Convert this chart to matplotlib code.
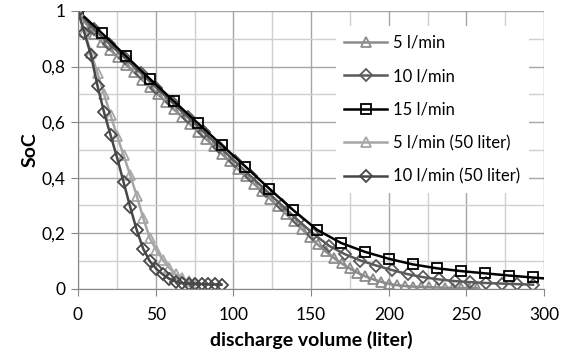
import matplotlib
matplotlib.use("Agg")
import matplotlib.pyplot as plt
from matplotlib.ticker import MultipleLocator

plt.rcParams["font.family"] = ["Lato", "DejaVu Sans"]

# 5 l/min
x_5 = [0, 5.14, 10.28, 15.42, 20.56, 25.70, 30.84, 35.98, 41.12, 46.26,
       51.40, 56.54, 61.68, 66.82, 71.96, 77.10, 82.24, 87.38, 92.52, 97.66,
       102.80, 107.94, 113.08, 118.22, 123.36, 128.50, 133.64, 138.78, 143.92, 149.06,
       154.20, 159.34, 164.48, 169.62, 174.76, 179.90, 185.04, 190.18, 195.32, 200.46,
       205.60, 210.74, 215.88, 221.02, 226.16, 231.30, 236.44, 241.58, 246.72, 251.86,
       257.00]
soc_5 = [1.0, 0.955, 0.918, 0.888, 0.861, 0.834, 0.807, 0.780, 0.753, 0.727,
         0.700, 0.673, 0.646, 0.620, 0.593, 0.566, 0.540, 0.513, 0.486, 0.459,
         0.432, 0.406, 0.379, 0.352, 0.325, 0.298, 0.271, 0.243, 0.216, 0.188,
         0.160, 0.135, 0.112, 0.092, 0.074, 0.058, 0.045, 0.034, 0.025, 0.018,
         0.013, 0.010, 0.008, 0.007, 0.006, 0.005, 0.004, 0.004, 0.003, 0.003,
         0.003]

# 10 l/min
x_10 = [0, 10.1, 20.2, 30.3, 40.4, 50.5, 60.6, 70.7, 80.8, 90.9,
        101.0, 111.1, 121.2, 131.3, 141.4, 151.5, 161.6, 171.7, 181.8, 191.9,
        202.0, 212.1, 222.2, 232.3, 242.4, 252.5, 262.6, 272.7, 282.8, 292.9]
soc_10 = [1.0, 0.935, 0.882, 0.830, 0.777, 0.724, 0.671, 0.618, 0.565, 0.512,
          0.459, 0.406, 0.353, 0.300, 0.248, 0.198, 0.155, 0.125, 0.102, 0.084,
          0.068, 0.053, 0.042, 0.034, 0.028, 0.024, 0.021, 0.019, 0.017, 0.015]

# 15 l/min
x_15 = [0, 15.4, 30.8, 46.2, 61.6, 77.0, 92.4, 107.8, 123.2, 138.6,
        154.0, 169.4, 184.8, 200.2, 215.6, 231.0, 246.4, 261.8, 277.2, 292.6, 308.0]
soc_15 = [1.0, 0.920, 0.838, 0.756, 0.676, 0.597, 0.518, 0.440, 0.360, 0.283,
          0.212, 0.165, 0.133, 0.108, 0.088, 0.074, 0.064, 0.056, 0.048, 0.041, 0.034]

# 5 l/min (50 liter)
x_5_50 = [0, 4.2, 8.4, 12.6, 16.8, 21.0, 25.2, 29.4, 33.6, 37.8,
          42.0, 46.2, 50.4, 54.6, 58.8, 63.0, 67.2, 71.4, 75.6]
soc_5_50 = [1.0, 0.925, 0.850, 0.775, 0.700, 0.625, 0.550, 0.480, 0.410, 0.335,
            0.255, 0.183, 0.140, 0.105, 0.075, 0.052, 0.038, 0.028, 0.022]

# 10 l/min (50 liter)
x_10_50 = [0, 4.2, 8.4, 12.6, 16.8, 21.0, 25.2, 29.4, 33.6, 37.8,
           42.0, 46.2, 50.4, 54.6, 58.8, 63.0, 67.2, 71.4, 75.6, 79.8,
           84.0, 88.2, 92.4]
soc_10_50 = [1.0, 0.920, 0.840, 0.730, 0.635, 0.553, 0.472, 0.383, 0.295, 0.212,
             0.144, 0.100, 0.072, 0.052, 0.036, 0.026, 0.021, 0.019, 0.018, 0.017,
             0.016, 0.016, 0.015]

y_ticks = [0, 0.2, 0.4, 0.6, 0.8, 1.0]
y_tick_labels = ["0", "0,2", "0,4", "0,6", "0,8", "1"]
x_ticks = [0, 50, 100, 150, 200, 250, 300]

series = [
    ("5 l/min", x_5, soc_5, "#8c8c8c", "^"),
    ("10 l/min", x_10, soc_10, "#5a5a5a", "D"),
    ("15 l/min", x_15, soc_15, "#000000", "s"),
    ("5 l/min (50 liter)", x_5_50, soc_5_50, "#a6a6a6", "^"),
    ("10 l/min (50 liter)", x_10_50, soc_10_50, "#474747", "D"),
]

fig = plt.figure(figsize=(5.65, 3.54), dpi=100)
ax = fig.add_axes([0.138, 0.184, 0.825, 0.785])

for label, xs, ys, color, marker in series:
    ms = 6.5 if marker == "D" else 7.5
    ax.plot(xs, ys, color=color, linewidth=1.8, marker=marker, markersize=ms,
            markerfacecolor="none", markeredgecolor=color, markeredgewidth=1.3,
            label=label)

ax.set_xlim(0, 300)
ax.set_ylim(0, 1)
ax.set_xticks(x_ticks)
ax.set_xticklabels([str(v) for v in x_ticks])
ax.set_yticks(y_ticks)
ax.set_yticklabels(y_tick_labels)
ax.xaxis.set_minor_locator(MultipleLocator(25))
ax.yaxis.set_minor_locator(MultipleLocator(0.1))

ax.grid(True, which="major", color="#a6a6a6", linewidth=1.0)
ax.grid(True, which="minor", color="#cfcfcf", linewidth=1.0)
ax.set_axisbelow(True)

ax.spines["top"].set_visible(False)
ax.spines["right"].set_visible(False)
ax.spines["left"].set_color("#868686")
ax.spines["bottom"].set_color("#868686")
ax.tick_params(which="major", length=5, color="#868686", labelsize=12.5, labelcolor="#000000")
ax.tick_params(which="minor", length=0)
ax.tick_params(axis="x", pad=8)
ax.tick_params(axis="y", pad=4)

ax.set_xlabel("discharge volume (liter)", fontsize=14, fontweight="bold", labelpad=6)
ax.set_ylabel("SoC", fontsize=14, fontweight="bold", labelpad=2)

leg = ax.legend(loc="upper left", bbox_to_anchor=(0.535, 0.975), frameon=True,
                fancybox=False, edgecolor="none", facecolor="white", framealpha=1,
                fontsize=12, handlelength=2.6, handletextpad=0.35, labelspacing=1.05,
                borderpad=0.5)

fig.savefig("out.png", dpi=100)
